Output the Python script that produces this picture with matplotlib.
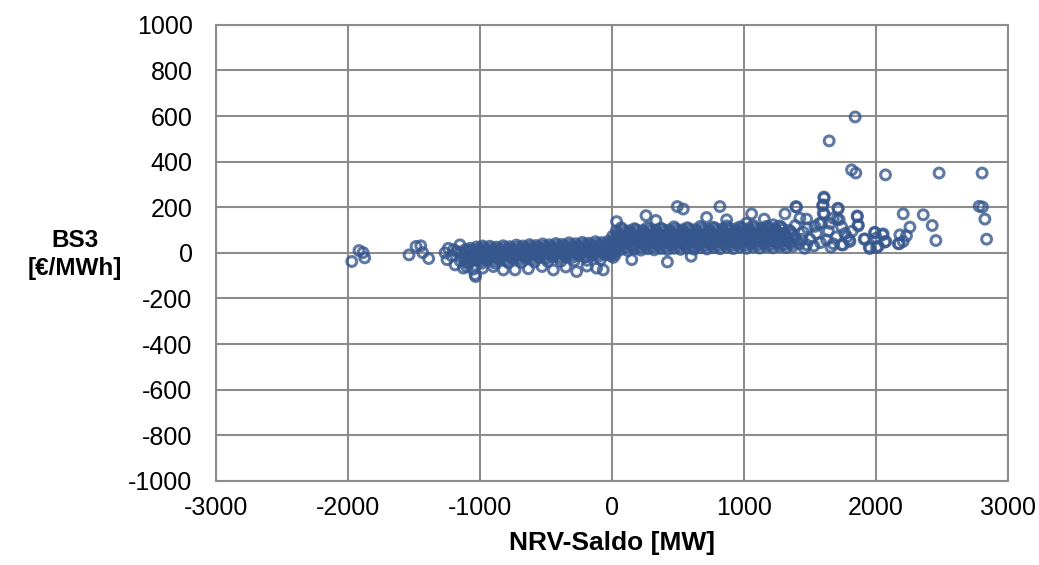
import matplotlib
matplotlib.use('Agg')
import matplotlib.pyplot as plt

# dense band, NRV < 0
band_neg_x = [-1150, -1100, -1050, -1000, -950, -900, -850, -800, -750, -700, -650, -600,
              -550, -500, -450, -400, -350, -300, -250, -200, -150, -100, -50, -10,
              -1125, -1075, -1025, -975, -925, -875, -825, -775, -725, -675, -625, -575,
              -525, -475, -425, -375, -325, -275, -225, -175, -125, -75, -25,
              -1150, -1100, -1050, -1000, -950, -900, -850, -800, -750, -700, -650, -600,
              -550, -500, -450, -400, -350, -300, -250, -200, -150, -100, -50, -15,
              -1075, -1025, -975, -925, -875, -825, -775, -725, -675, -625, -575,
              -525, -475, -425, -375, -325, -275, -225, -175, -125, -75, -25]
band_neg_y = [-36, -40, -33, -38, -31, -35, -28, -33, -26, -30, -24, -28,
              -21, -25, -18, -22, -16, -20, -13, -18, -11, -15, -8, -12,
              -18, -14, -19, -12, -16, -9, -13, -7, -11, -4, -8, -2,
              -6, 1, -3, 3, -1, 6, 2, 8, 4, 10, 7,
              2, 6, 1, 8, 4, 11, 7, 13, 9, 15, 11, 18,
              14, 20, 16, 23, 19, 25, 21, 28, 24, 30, 27, 33,
              20, 26, 22, 29, 25, 31, 27, 34, 30, 36, 32,
              39, 35, 41, 37, 44, 40, 46, 42, 49, 45, 52]

# in-between rows of the NRV < 0 band
band_neg2_x = [-1112, -1062, -1012, -962, -912, -862, -812, -762, -712, -662, -612, -562,
               -512, -462, -412, -362, -312, -262, -212, -162, -112, -62, -12,
               -1112, -1062, -1012, -962, -912, -862, -812, -762, -712, -662, -612, -562,
               -512, -462, -412, -362, -312, -262, -212, -162, -112, -62, -12,
               -1112, -1062, -1012, -962, -912, -862, -812, -762, -712, -662, -612, -562,
               -512, -462, -412, -362, -312, -262, -212, -162, -112, -62, -12,
               -1087, -987, -887, -787, -687, -587, -487, -387, -287, -187, -87]
band_neg2_y = [-30, -25, -27, -22, -25, -20, -22, -17, -20, -15, -17, -12,
               -15, -10, -12, -7, -10, -5, -7, -2, -5, 0, -2,
               -6, -9, -3, -6, -1, -4, 2, -1, 4, 1, 7, 4,
               9, 6, 12, 9, 14, 11, 17, 14, 19, 16, 22,
               14, 11, 17, 14, 19, 16, 22, 19, 24, 21, 27, 24,
               29, 26, 32, 29, 34, 31, 37, 34, 39, 36, 42,
               -48, -46, -45, -43, -42, -40, -38, -37, -35, -33, -30]

# dense band, NRV > 0
band_pos_x = [20, 70, 120, 170, 220, 270, 320, 370, 420, 470, 520, 570, 620, 670,
              720, 770, 820, 870, 920, 970, 1020, 1070, 1120, 1170, 1220, 1270, 1320, 1370,
              45, 95, 145, 195, 245, 295, 345, 395, 445, 495, 545, 595, 645, 695,
              745, 795, 845, 895, 945, 995, 1045, 1095, 1145, 1195, 1245, 1295, 1345, 1395,
              20, 70, 120, 170, 220, 270, 320, 370, 420, 470, 520, 570, 620, 670,
              720, 770, 820, 870, 920, 970, 1020, 1070, 1120, 1170, 1220, 1270, 1320, 1370,
              45, 95, 145, 195, 245, 295, 345, 395, 445, 495, 545, 595, 645, 695,
              745, 795, 845, 895, 945, 995, 1045, 1095, 1145, 1195, 1245, 1295, 1345,
              70, 170, 270, 370, 470, 570, 670, 770, 870, 970, 1070, 1170, 1270]
band_pos_y = [8, 15, 10, 17, 12, 18, 13, 19, 14, 20, 15, 21, 16, 22,
              17, 23, 18, 24, 19, 25, 20, 26, 21, 27, 22, 28, 23, 29,
              35, 40, 34, 42, 36, 43, 37, 44, 38, 45, 39, 46, 40, 47,
              41, 48, 42, 49, 43, 50, 44, 51, 45, 52, 46, 53, 47, 54,
              60, 66, 61, 67, 62, 68, 63, 69, 64, 70, 65, 71, 66, 72,
              67, 73, 68, 74, 69, 75, 70, 76, 71, 77, 72, 78, 73, 79,
              86, 90, 87, 92, 88, 93, 89, 94, 90, 95, 91, 96, 92, 97,
              93, 98, 94, 99, 95, 100, 96, 101, 97, 102, 98, 103, 99,
              110, 106, 112, 108, 114, 110, 116, 112, 118, 114, 120, 116, 118]

# in-between rows of the NRV > 0 band
band_pos2_x = [5, 57, 107, 157, 207, 257, 307, 357, 407, 457, 507, 557, 607, 657,
               707, 757, 807, 857, 907, 957, 1007, 1057, 1107, 1157, 1207, 1257, 1307, 1357,
               32, 82, 132, 182, 232, 282, 332, 382, 432, 482, 532, 582, 632, 682,
               732, 782, 832, 882, 932, 982, 1032, 1082, 1132, 1182, 1232, 1282, 1332, 1382,
               5, 57, 107, 157, 207, 257, 307, 357, 407, 457, 507, 557, 607, 657,
               707, 757, 807, 857, 907, 957, 1007, 1057, 1107, 1157, 1207, 1257, 1307, 1357,
               32, 82, 132, 182, 232, 282, 332, 382, 432, 482, 532, 582, 632, 682,
               732, 782, 832, 882, 932, 982, 1032, 1082, 1132, 1182, 1232, 1282]
band_pos2_y = [22, 28, 24, 29, 25, 30, 26, 31, 27, 32, 28, 33, 29, 34,
               30, 35, 31, 36, 32, 37, 33, 38, 34, 39, 35, 40, 36, 41,
               48, 53, 49, 54, 50, 55, 51, 56, 52, 57, 53, 58, 54, 59,
               55, 60, 56, 61, 57, 62, 58, 63, 59, 64, 60, 65, 61, 66,
               73, 78, 74, 79, 75, 80, 76, 81, 77, 82, 78, 83, 79, 84,
               80, 85, 81, 86, 82, 87, 83, 88, 84, 89, 85, 90, 86, 91,
               95, 101, 97, 102, 98, 103, 99, 104, 100, 105, 101, 106, 102, 107,
               103, 108, 104, 109, 105, 110, 106, 111, 107, 112, 108, 113]

# scattered points around the band and outliers
scatter_x = [-1972, -1917, -1886, -1874, -1538, -1485, -1449, -1434, -1389,
             -1265, -1240, -1215, -1177, -1152, -1089, -1189, -1126, -1051, -1033,
             -1101, -1038, -980, -899, -823, -735, -634, -530, -444, -350, -268, -190,
             -116, -66, -980, -1250, -1200,
             495, 540, 818, 258, 333, 1058, 1154, 1394, 1606, 1596, 1601, 1712,
             1311, 1424, 1475, 1571, 1652, 1859, 1866, 1707, 1740, 1765, 1798, 1911,
             1991, 2055, 2076, 1955, 2005, 2177, 1475, 1677, 1740, 1626, 717, 869,
             35, 1222, 1020, 600, 420, 150, 10, 25, 15,
             1843, 1646, 1816, 1848, 2073, 2479, 2805, 2783, 2808, 2826, 2839, 2455,
             2427, 2359, 2207, 2258, 2232, 2182, 2207, 2170, 2068, 2050, 1992, 2005,
             2018, 1949, 1917, 1866, 1859, 1803, 1752, 1608, 1601, 1608, 1399, 1715,
             1722, 1677, 1588, 1538, 1450, 1500, 1420, 1550, 1480, 1640, 1700, 1530,
             1440, 1580, 1390, 1460, 1660, 1780, 1820]
scatter_y = [-38, 10, 1, -22, -9, 28, 31, 1, -25,
             0, 20, -13, 6, 35, -16, -53, -67, -72, -104,
             -60, -96, -67, -60, -75, -75, -70, -60, -75, -62, -82, -58,
             -67, -75, 30, -30, 14,
             203, 192, 203, 163, 142, 171, 148, 203, 245, 207, 174, 196,
             171, 152, 148, 129, 129, 162, 123, 148, 115, 85, 57, 60,
             90, 83, 50, 19, 23, 40, 35, 40, 35, 57, 155, 145,
             137, 123, 130, -15, -40, -30, -20, -8, 2,
             596, 491, 364, 350, 342, 350, 350, 204, 201, 148, 60, 54,
             120, 167, 171, 113, 75, 79, 50, 40, 47, 79, 89, 65,
             29, 26, 61, 118, 159, 50, 35, 240, 211, 171, 200, 193,
             145, 152, 130, 116, 90, 60, 40, 85, 110, 95, 70, 30,
             60, 45, 120, 20, 25, 70, 95]

x_ticks = [-3000, -2000, -1000, 0, 1000, 2000, 3000]
y_ticks = [-1000, -800, -600, -400, -200, 0, 200, 400, 600, 800, 1000]

plt.rcParams['font.family'] = ['Liberation Sans', 'DejaVu Sans']
plt.rcParams['axes.unicode_minus'] = False

fig = plt.figure(figsize=(10.39, 5.65), dpi=100)
ax = fig.add_axes([0.208, 0.149, 0.762, 0.807])

xs = band_neg_x + band_neg2_x + band_pos_x + band_pos2_x + scatter_x
ys = band_neg_y + band_neg2_y + band_pos_y + band_pos2_y + scatter_y
ax.scatter(xs, ys, s=50, facecolors='none', edgecolors='#36578e',
           linewidths=2.2, alpha=0.8, zorder=3)

ax.set_xlim(-3000, 3000)
ax.set_ylim(-1000, 1000)
ax.set_xticks(x_ticks)
ax.set_yticks(y_ticks)
ax.grid(True, color='#8c8c8c', linewidth=1.5)
ax.set_axisbelow(True)
for sp in ax.spines.values():
    sp.set_color('#8c8c8c')
    sp.set_linewidth(1.5)
ax.tick_params(length=0, labelsize=18, colors='black')
ax.tick_params(axis='y', pad=17)
ax.tick_params(axis='x', pad=11)

ax.set_xlabel('NRV-Saldo [MW]', fontsize=19, fontweight='bold', labelpad=8)
fig.text(0.072, 0.55, 'BS3\n[€/MWh]', fontsize=17.5, fontweight='bold',
         ha='center', va='center', linespacing=1.25)

fig.savefig('out.png', dpi=100)
